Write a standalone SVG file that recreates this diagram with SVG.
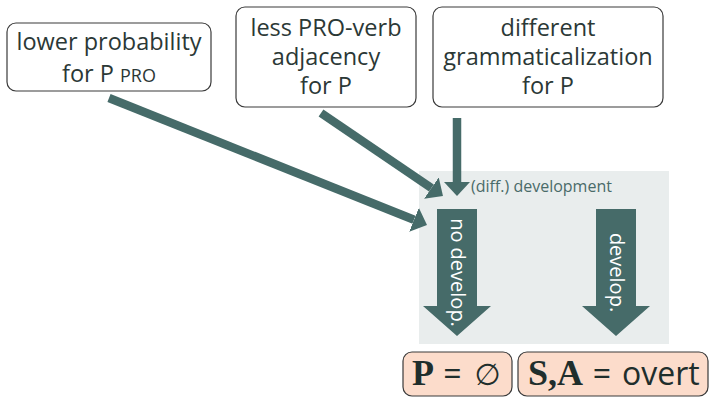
<svg xmlns="http://www.w3.org/2000/svg" width="710" height="397" viewBox="0 0 710 397">
  <style>
    .box { fill: #ffffff; stroke: #3a3a3a; stroke-width: 1.2; }
    .res { fill: #fcdccb; stroke: #3a3a3a; stroke-width: 1.2; }
    .lbl { font-family: "Open Sans", "DejaVu Sans", sans-serif; font-size: 23.5px; fill: #2b3836; text-anchor: middle; }
    .conn { stroke: #466b69; stroke-width: 8.5; fill: none; }
    .big { fill: #466b69; }
    .rot { font-family: "Open Sans", "DejaVu Sans", sans-serif; font-size: 20px; fill: #ffffff; text-anchor: middle; }
    .bold { font-family: "Liberation Serif", "DejaVu Serif", serif; font-weight: bold; font-size: 36px; fill: #1f2e2c; }
    .rtxt { font-family: "Open Sans", "DejaVu Sans", sans-serif; font-size: 32px; fill: #1f2e2c; }
  </style>
  <defs>
    <marker id="head" markerUnits="userSpaceOnUse" viewBox="0 0 14 26" markerWidth="14" markerHeight="26" refX="0" refY="13" orient="auto">
      <path d="M0,0 L14,13 L0,26 z" fill="#466b69"/>
    </marker>
  </defs>

  <rect id="panel" x="419" y="171" width="250" height="173" fill="#e9eded"/>
  <text x="471" y="192" font-family="Open Sans, DejaVu Sans, sans-serif" font-size="16" fill="#4a6b69">(diff.) development</text>

  <g id="node-lower">
    <rect class="box" x="7" y="23" width="204" height="68" rx="9"/>
    <text class="lbl" x="109" y="50">lower probability</text>
    <text class="lbl" x="109" y="82">for P <tspan font-size="18">PRO</tspan></text>
  </g>

  <g id="node-less">
    <rect class="box" x="236" y="7" width="180" height="100" rx="9"/>
    <text class="lbl" x="326" y="36">less PRO-verb</text>
    <text class="lbl" x="326" y="65">adjacency</text>
    <text class="lbl" x="326" y="94">for P</text>
  </g>

  <g id="node-different">
    <rect class="box" x="433" y="7" width="230" height="100" rx="9"/>
    <text class="lbl" x="548" y="36">different</text>
    <text class="lbl" x="548" y="65">grammaticalization</text>
    <text class="lbl" x="548" y="94">for P</text>
  </g>

  <g id="connectors">
    <line class="conn" x1="109" y1="98" x2="414" y2="219.8" marker-end="url(#head)"/>
    <line class="conn" x1="321" y1="113" x2="431.4" y2="188.1" marker-end="url(#head)"/>
    <line class="conn" x1="457" y1="118" x2="457" y2="182" marker-end="url(#head)"/>
  </g>

  <g id="arrow-nodevelop">
    <polygon class="big" points="437,209 477,209 477,306 491,306 457,336 423,306 437,306"/>
    <text class="rot" transform="translate(457,272.5) rotate(90)" x="0" y="6">no develop.</text>
  </g>

  <g id="arrow-develop">
    <polygon class="big" points="596,209 636,209 636,306 650,306 616,336 582,306 596,306"/>
    <text class="rot" transform="translate(616,272.5) rotate(90)" x="0" y="6">develop.</text>
  </g>

  <g id="result-p">
    <rect class="res" x="403" y="352" width="109" height="44" rx="9"/>
    <text class="bold" x="412" y="385">P</text>
    <text class="rtxt" x="452.5" y="385" text-anchor="middle">=</text>
    <text x="487.5" y="385" text-anchor="middle" font-family="DejaVu Sans, sans-serif" font-size="30" fill="#1f2e2c">∅</text>
  </g>

  <g id="result-sa">
    <rect class="res" x="518" y="352" width="190" height="44" rx="9"/>
    <text class="bold" x="528" y="385">S,A</text>
    <text class="rtxt" x="602" y="385" text-anchor="middle">=</text>
    <text class="rtxt" x="622" y="385">overt</text>
  </g>
</svg>
